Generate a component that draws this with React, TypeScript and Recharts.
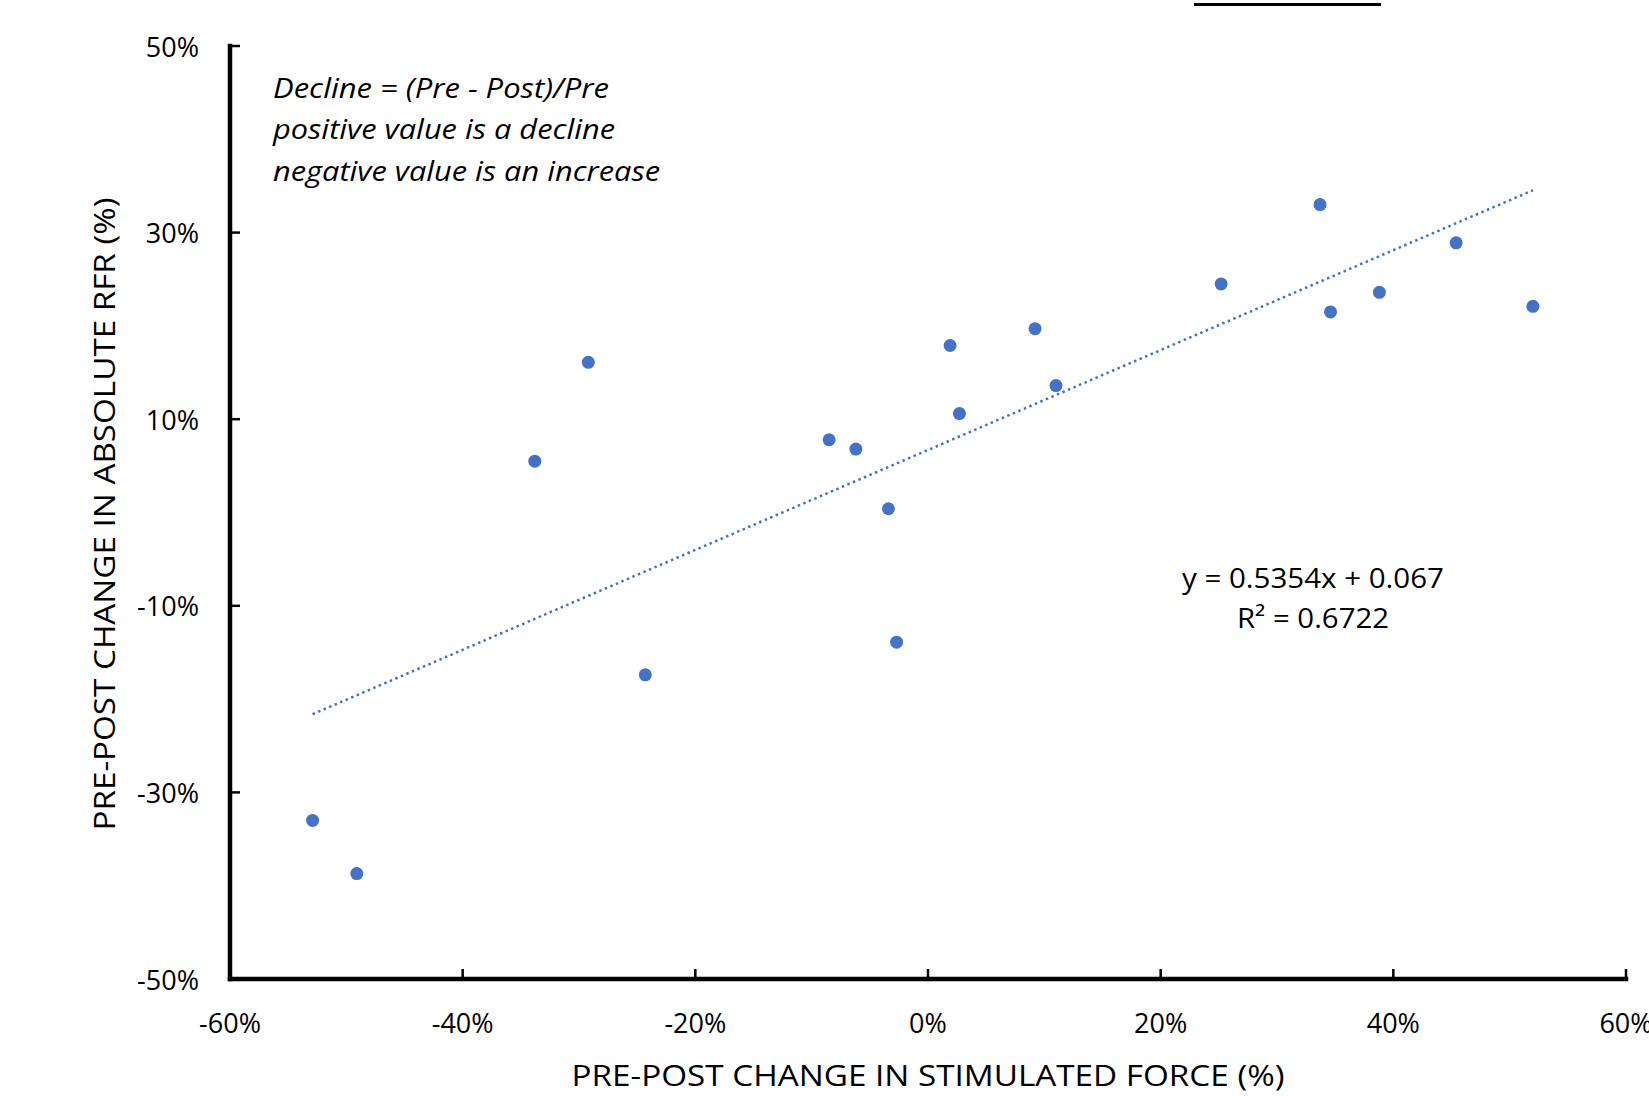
import { ReferenceLine, Scatter, ScatterChart, XAxis, YAxis } from "recharts"

// pre-post change in stimulated force (%) and absolute RFR (%)
const forceChange = [-52.9, -49.1, -33.8, -29.2, -24.3, -8.5, -6.2, -3.4, -2.7, 1.9, 2.7, 9.2, 11.0, 25.2, 33.7, 34.6, 38.8, 45.4, 52.0]
const rfrChange = [-33.0, -38.7, 5.5, 16.1, -17.4, 7.8, 6.8, 0.4, -13.9, 17.9, 10.6, 19.7, 13.6, 24.5, 33.0, 21.5, 23.6, 28.9, 22.1]

const xTicks = [-60, -40, -20, 0, 20, 40, 60]
const yTicks = [-50, -30, -10, 10, 30, 50]

// linear trendline printed on the chart
const slope = 0.5354
const intercept = 6.7

const points = forceChange.map((x, i) => ({ x, y: rfrChange[i] }))
const xMin = Math.min(...forceChange)
const xMax = Math.max(...forceChange)
const trend = [
  { x: xMin, y: slope * xMin + intercept },
  { x: xMax, y: slope * xMax + intercept },
]

const FONT = "'Open Sans', 'DejaVu Sans', sans-serif"
const BLUE = "#4472C4"

function XTick(props: any) {
  const { x, y, payload } = props
  return (
    <g>
      <line x1={x} y1={y} x2={x} y2={y - 10} stroke="#000" strokeWidth={2.5} />
      <text x={x} y={y + 43} textAnchor="middle" dominantBaseline="central" fontFamily={FONT} fontSize={27} fill="#000">
        {payload.value}%
      </text>
    </g>
  )
}

function YTick(props: any) {
  const { x, y, payload } = props
  return (
    <g>
      <line x1={x} y1={y} x2={x + 10} y2={y} stroke="#000" strokeWidth={2.5} />
      <text x={x - 31} y={y} textAnchor="end" dominantBaseline="central" fontFamily={FONT} fontSize={27} fill="#000">
        {payload.value}%
      </text>
    </g>
  )
}

function Dot(props: any) {
  return <circle cx={props.cx} cy={props.cy} r={6.5} fill={BLUE} />
}

export default function App() {
  return (
    <div style={{ position: "absolute", left: 0, top: 0, width: 1649, height: 1096, background: "#fff" }}>
      <div style={{ position: "absolute", left: 1194, top: 3, width: 187, height: 3, background: "#000" }} />
      <ScatterChart width={1649} height={1096} margin={{ top: 46, right: 23, bottom: 0, left: 0 }}>
        <XAxis
          type="number"
          dataKey="x"
          domain={[-60, 60]}
          ticks={xTicks}
          interval={0}
          height={117}
          tickSize={0}
          tickMargin={0}
          tickLine={false}
          axisLine={{ stroke: "#000", strokeWidth: 4.5, strokeLinecap: "square" }}
          tick={<XTick />}
        />
        <YAxis
          type="number"
          dataKey="y"
          domain={[-50, 50]}
          ticks={yTicks}
          interval={0}
          width={230}
          tickSize={0}
          tickMargin={0}
          tickLine={false}
          axisLine={{ stroke: "#000", strokeWidth: 4.5, strokeLinecap: "square" }}
          tick={<YTick />}
        />
        <ReferenceLine
          segment={trend}
          stroke={BLUE}
          strokeWidth={2.5}
          strokeDasharray="2.5 3.5"
          ifOverflow="visible"
        />
        <Scatter data={points} fill={BLUE} shape={<Dot />} isAnimationActive={false} />
      </ScatterChart>
      <svg width={1649} height={1096} style={{ position: "absolute", left: 0, top: 0, pointerEvents: "none" }}>
        <g fontFamily={FONT} fill="#000">
          <text
            transform="translate(103,514) rotate(-90)"
            textAnchor="middle"
            dominantBaseline="central"
            fontSize={30}
            textLength={633}
            lengthAdjust="spacingAndGlyphs"
          >
            PRE-POST CHANGE IN ABSOLUTE RFR (%)
          </text>
          <text x={928} y={1074} textAnchor="middle" dominantBaseline="central" fontSize={30} textLength={713} lengthAdjust="spacingAndGlyphs">
            PRE-POST CHANGE IN STIMULATED FORCE (%)
          </text>
          <g fontStyle="italic" fontSize={27}>
            <text x={273} y={87} dominantBaseline="central" textLength={336} lengthAdjust="spacingAndGlyphs">
              Decline = (Pre - Post)/Pre
            </text>
            <text x={273} y={128} dominantBaseline="central" textLength={342} lengthAdjust="spacingAndGlyphs">
              positive value is a decline
            </text>
            <text x={273} y={170} dominantBaseline="central" textLength={387} lengthAdjust="spacingAndGlyphs">
              negative value is an increase
            </text>
          </g>
          <text x={1313} y={577} textAnchor="middle" dominantBaseline="central" fontSize={28} textLength={262} lengthAdjust="spacingAndGlyphs">
            y = 0.5354x + 0.067
          </text>
          <text x={1313} y={617} textAnchor="middle" dominantBaseline="central" fontSize={28} textLength={152} lengthAdjust="spacingAndGlyphs">
            R² = 0.6722
          </text>
        </g>
      </svg>
    </div>
  )
}
